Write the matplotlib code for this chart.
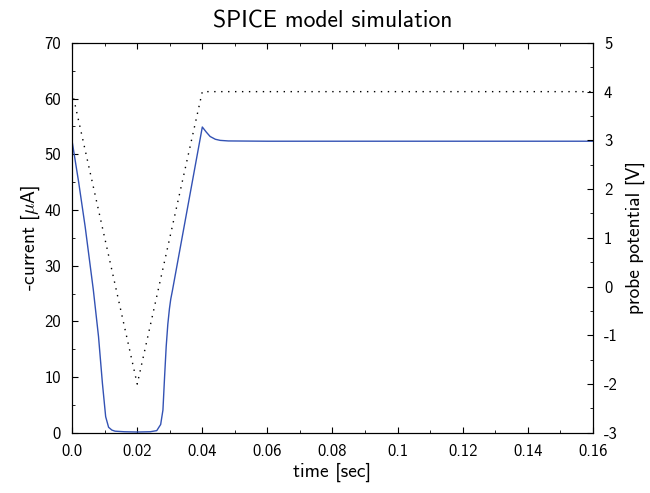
import numpy as np
import matplotlib
matplotlib.use("Agg")
import matplotlib.pyplot as plt
from matplotlib.ticker import MultipleLocator

plt.rcParams['font.family'] = ['cmss10', 'DejaVu Sans']
plt.rcParams['mathtext.fontset'] = 'cm'
plt.rcParams['axes.unicode_minus'] = False

# current trace
t_cur = [0.0, 0.002, 0.004, 0.0065, 0.0081, 0.0093, 0.0103, 0.0112, 0.0122, 0.0132,
         0.016, 0.02, 0.024, 0.026, 0.0272, 0.0279, 0.0284, 0.0289, 0.0294, 0.0299,
         0.0303, 0.0308, 0.0400, 0.0412, 0.0424, 0.0440,
         0.0455, 0.048, 0.06, 0.1, 0.16]
i_cur = [52.3, 45.0, 37.0, 25.7, 17.3, 8.9, 2.9, 1.0, 0.5, 0.3,
         0.2, 0.15, 0.2, 0.4, 1.5, 4.1, 10.0, 15.5, 19.5, 22.3,
         24.0, 25.5, 54.9, 54.0, 53.2, 52.7,
         52.5, 52.4, 52.35, 52.35, 52.35]

# probe voltage
t_v = [0.0, 0.02, 0.04, 0.16]
v = [4.0, -2.0, 4.0, 4.0]

fig = plt.figure(figsize=(6.5, 4.93), dpi=100)
ax = fig.add_axes([0.111, 0.122, 0.801, 0.791])
ax2 = ax.twinx()

ax.plot(t_cur, i_cur, color='#3352b4', lw=1.0)
ax2.plot(t_v, v, color='black', lw=1.0, ls=(0, (1, 4)))

ax.set_xlim(0, 0.16)
ax.set_ylim(0, 70)
ax2.set_ylim(-3, 5)

ax.xaxis.set_major_locator(MultipleLocator(0.02))
ax.xaxis.set_minor_locator(MultipleLocator(0.01))
ax.yaxis.set_major_locator(MultipleLocator(10))
ax.yaxis.set_minor_locator(MultipleLocator(5))
ax2.yaxis.set_major_locator(MultipleLocator(1))
ax2.yaxis.set_minor_locator(MultipleLocator(0.5))

xt = [0.0, 0.02, 0.04, 0.06, 0.08, 0.1, 0.12, 0.14, 0.16]
ax.set_xticks(xt)
ax.set_xticklabels(['0.0', '0.02', '0.04', '0.06', '0.08', '0.1', '0.12', '0.14', '0.16'])

for a in (ax, ax2):
    a.tick_params(which='both', direction='in', labelsize=12, pad=8)
    a.tick_params(which='major', length=4.5)
    a.tick_params(which='minor', length=2.5)
ax.tick_params(which='both', top=True, right=False)

ax.set_xlabel('time [sec]', fontsize=14, labelpad=3)
ax.set_ylabel(r'-current [$\mu$A]', fontsize=14, labelpad=2)
ax2.set_ylabel('probe potential [V]', fontsize=14, labelpad=6)
ax.set_title('SPICE model simulation', fontsize=17, pad=11)

fig.savefig('out.png', dpi=100)
